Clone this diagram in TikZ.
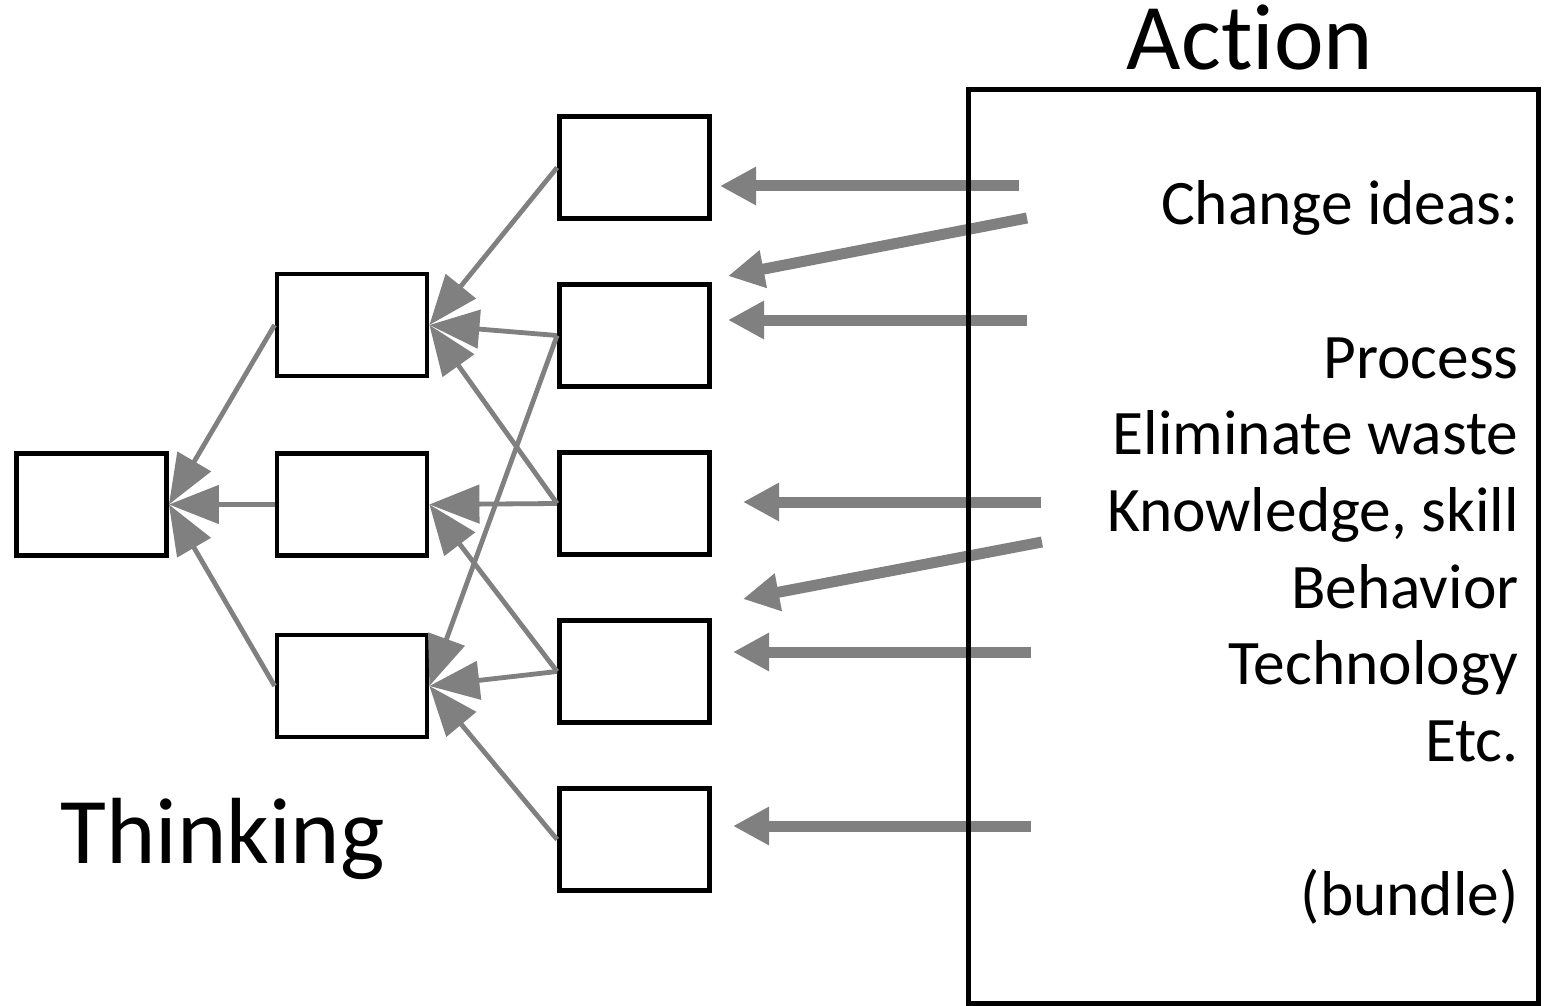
\documentclass[tikz,border=0pt]{standalone}
\usepackage{fontspec}
\setmainfont{Carlito}[Ligatures=NoCommon]
\usetikzlibrary{arrows.meta}
\begin{document}
\begin{tikzpicture}[x=0.5pt,y=-0.5pt,
  box/.style={draw=black, line width=2.4pt, minimum width=75pt, minimum height=51pt, inner sep=0pt},
  link/.style={draw=gray, line width=2.4pt, -{Triangle[length=25pt,width=19pt]}},
  push/.style={draw=gray, line width=5.5pt, -{Triangle[length=18pt,width=18pt]}},
  heading/.style={inner sep=0pt, font=\fontsize{47pt}{56pt}\selectfont},
  ideatext/.style={inner sep=0pt, align=right, font=\fontsize{31.7pt}{38.35pt}\selectfont},
]
\useasboundingbox (0,0) rectangle (1544,1006);

% thinking tree
\node[box] (a)  at (91.5,504.5) {};
\node[box] (b1) at (352,325) {};
\node[box] (b2) at (352,504.5) {};
\node[box] (b3) at (352,686) {};
\node[box] (c1) at (634.5,167.5) {};
\node[box] (c2) at (634.5,335.5) {};
\node[box] (c3) at (634.5,503.5) {};
\node[box] (c4) at (634.5,671.5) {};
\node[box] (c5) at (634.5,839.5) {};

\draw[link] (c1.west) -- (b1.east);
\draw[link] (c2.west) -- (b1.east);
\draw[link] (c3.west) -- (b1.east);
\draw[link] (c3.west) -- (b2.east);
\draw[link] (c2.west) -- (b3.east);
\draw[link] (c4.west) -- (b2.east);
\draw[link] (c4.west) -- (b3.east);
\draw[link] (c5.west) -- (b3.east);
\draw[link] (b1.west) -- (a.east);
\draw[link] (b2.west) -- (a.east);
\draw[link] (b3.west) -- (a.east);

% change ideas pushed into the tree
\coordinate (s1) at (1019,186);  \coordinate (t1) at (720,186);
\coordinate (s2) at (1027,218);  \coordinate (t2) at (728,276);
\coordinate (s3) at (1027,320);  \coordinate (t3) at (728,320);
\coordinate (s4) at (1041,502);  \coordinate (t4) at (743,502);
\coordinate (s5) at (1042,542);  \coordinate (t5) at (743,599);
\coordinate (s6) at (1031,652);  \coordinate (t6) at (733,652);
\coordinate (s7) at (1031,826);  \coordinate (t7) at (733,826);
\foreach \i in {1,...,7} \draw[push] (s\i) -- (t\i);

% action panel
\node[draw=black, line width=2.5pt, minimum width=285pt, minimum height=456.5pt, inner sep=0pt] (panel) at (1253,546.5) {};

\node[heading, anchor=base] (action) at (1250,70) {Action};
\node[heading, anchor=base west] (thinking) at (60,863) {Thinking};
% the node's base is the baseline of its last line
\node[ideatext, anchor=base east] (ideas) at (1519,915)
  {Change ideas:\\ \phantom{X}\\ Process\\ Eliminate waste\\ Knowledge, skill\\ Behavior\\ Technology\\ Etc.\\ \phantom{X}\\ (bundle)};
\end{tikzpicture}
\end{document}
